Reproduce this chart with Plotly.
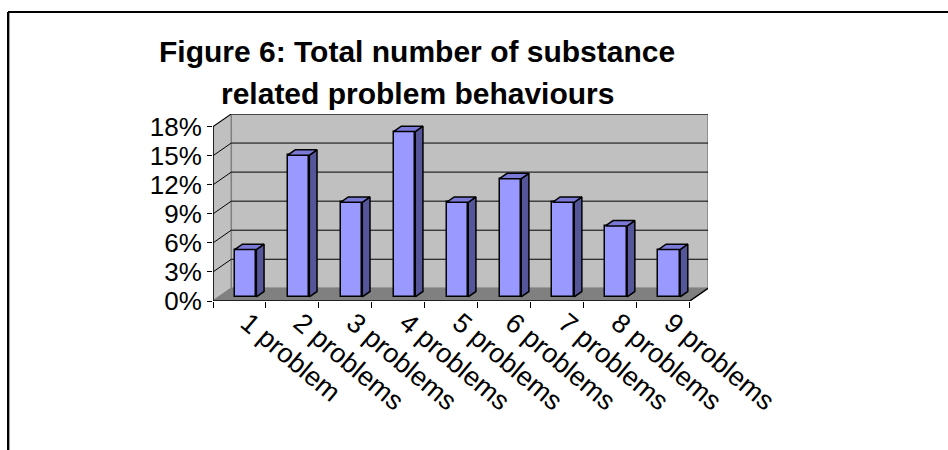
import plotly.graph_objects as go

# ---------------- data ----------------
categories = ["1 problem", "2 problems", "3 problems", "4 problems", "5 problems",
              "6 problems", "7 problems", "8 problems", "9 problems"]
values = [4.88, 14.63, 9.76, 17.07, 9.76, 12.20, 9.76, 7.32, 4.88]   # percent
y_ticks = [0, 3, 6, 9, 12, 15, 18]
y_tick_labels = ["0%", "3%", "6%", "9%", "12%", "15%", "18%"]
title_lines = ["Figure 6: Total number of substance", "related problem behaviours"]

# ---------------- geometry / style ----------------
W, H = 948, 450
ML, MR, MT, MB = 213, 240, 114, 149
PW, PH = W - ML - MR, H - MT - MB

Y_MAX = 18
DX, DY = 0.345, 1.31          # depth offset of back wall (x units, % units)
F1, F2 = 0.33, 0.75           # bar front/back depth fraction
BAR_W = 0.41
n = len(categories)
x_lo, x_hi = -0.5, n - 0.5
x_range = [x_lo, x_hi + DX]
y_range = [0, Y_MAX + DY]

FONT = "Liberation Sans, Arial, sans-serif"
FRONT = "#9999FF"
SIDE = "#555599"
TOP = "#7A7AD6"
WALL = "#C0C0C0"
FLOOR = "#808080"

def px_x(p):
    return (p - ML) / PW

def px_y(p):
    return (H - MB - p) / PH

fig = go.Figure()

shapes = []
# back wall
shapes.append(dict(type="path", xref="x", yref="y", layer="below",
                   path=f"M{x_lo+DX},{DY} L{x_hi+DX},{DY} L{x_hi+DX},{Y_MAX+DY} L{x_lo+DX},{Y_MAX+DY} Z",
                   fillcolor=WALL, line=dict(color="#808080", width=1.5)))
# left wall
shapes.append(dict(type="path", xref="x", yref="y", layer="below",
                   path=f"M{x_lo},0 L{x_lo+DX},{DY} L{x_lo+DX},{Y_MAX+DY} L{x_lo},{Y_MAX} Z",
                   fillcolor=WALL, line=dict(color="#808080", width=1.5)))
# gridlines (back wall + left wall)
for t in y_ticks[1:]:
    shapes.append(dict(type="path", xref="x", yref="y", layer="below",
                       path=f"M{x_lo},{t} L{x_lo+DX},{t+DY} L{x_hi+DX},{t+DY}",
                       line=dict(color="black", width=1)))
# floor
shapes.append(dict(type="path", xref="x", yref="y", layer="below",
                   path=f"M{x_lo},0 L{x_hi},0 L{x_hi+DX},{DY} L{x_lo+DX},{DY} Z",
                   fillcolor=FLOOR, line=dict(color="#808080", width=1)))
# front floor edge + right diagonal + front vertical axis
shapes.append(dict(type="path", xref="x", yref="y", layer="below",
                   path=f"M{x_lo},{Y_MAX} L{x_lo},0 L{x_hi},0 L{x_hi+DX},{DY}",
                   line=dict(color="black", width=1.5)))
# outer frame (chart area border)
shapes.append(dict(type="line", xref="paper", yref="paper",
                   x0=px_x(8), y0=px_y(12), x1=px_x(W + 5), y1=px_y(12),
                   line=dict(color="black", width=2)))
shapes.append(dict(type="line", xref="paper", yref="paper",
                   x0=px_x(8), y0=px_y(12), x1=px_x(8), y1=px_y(H + 5),
                   line=dict(color="black", width=2)))
shapes.append(dict(type="line", xref="paper", yref="paper",
                   x0=px_x(9.5), y0=px_y(13), x1=px_x(9.5), y1=px_y(H + 5),
                   line=dict(color="#A0A0A0", width=1)))

# bar front faces
base0 = F1 * DY
xs_front = [i + F1 * DX for i in range(n)]
fig.add_trace(go.Bar(x=xs_front, y=values, base=base0, width=BAR_W,
                     marker=dict(color=FRONT, line=dict(color="black", width=1.5)),
                     hoverinfo="skip", showlegend=False))

# side and top faces
ddx = (F2 - F1) * DX
ddy = (F2 - F1) * DY
for xc, v in zip(xs_front, values):
    xl, xr = xc - BAR_W / 2, xc + BAR_W / 2
    top = base0 + v
    fig.add_trace(go.Scatter(x=[xr, xr + ddx, xr + ddx, xr, xr],
                             y=[base0, base0 + ddy, top + ddy, top, base0],
                             fill="toself", fillcolor=SIDE, mode="lines",
                             line=dict(color="black", width=1.5),
                             hoverinfo="skip", showlegend=False))
    fig.add_trace(go.Scatter(x=[xl, xr, xr + ddx, xl + ddx, xl],
                             y=[top, top, top + ddy, top + ddy, top],
                             fill="toself", fillcolor=TOP, mode="lines",
                             line=dict(color="black", width=1.5),
                             hoverinfo="skip", showlegend=False))

annotations = []
for line_text, cy in zip(title_lines, [51, 93]):
    annotations.append(dict(text=line_text, xref="paper", yref="paper",
                            x=px_x(417), y=px_y(cy), xanchor="center", yanchor="middle",
                            showarrow=False,
                            font=dict(family=FONT, size=30, color="black", weight="bold")))

fig.update_layout(
    width=W, height=H,
    margin=dict(l=ML, r=MR, t=MT, b=MB, pad=0),
    paper_bgcolor="white", plot_bgcolor="rgba(0,0,0,0)",
    font=dict(family=FONT, color="black", size=26),
    bargap=0,
    shapes=shapes,
    annotations=annotations,
    xaxis=dict(range=x_range, tickvals=[i + 0.15 for i in range(n)], ticktext=categories,
               tickangle=40, ticks="", showgrid=False, zeroline=False,
               showline=False, tickfont=dict(size=27), fixedrange=True),
    xaxis2=dict(range=x_range, overlaying="x", side="bottom", anchor="y",
                tickvals=[x_lo + i for i in range(n + 1)], showticklabels=False,
                ticks="outside", ticklen=6, tickwidth=1, tickcolor="black",
                showgrid=False, zeroline=False, showline=False),
    yaxis=dict(range=y_range, tickvals=y_ticks, ticktext=y_tick_labels,
               ticks="outside", ticklen=5, tickwidth=1, tickcolor="black",
               showgrid=False, zeroline=False, showline=False,
               tickfont=dict(size=26), fixedrange=True),
)
# dummy trace to activate xaxis2 ticks
fig.add_trace(go.Scatter(x=[x_lo], y=[0], xaxis="x2", mode="markers",
                         marker=dict(opacity=0), hoverinfo="skip", showlegend=False))

fig.write_html("out.html", config={"displayModeBar": False},
               post_script="document.body.style.margin='0px';")
